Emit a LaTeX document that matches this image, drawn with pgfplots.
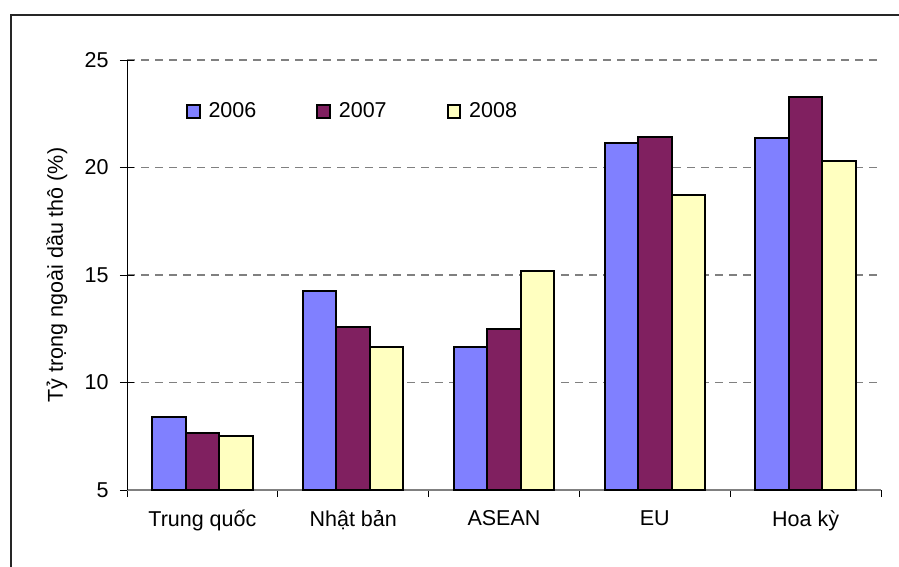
\documentclass[border=0pt]{standalone}
\usepackage{fontspec}
\setmainfont{Liberation Sans}
\usepackage{pgfplots}
\pgfplotsset{compat=1.18}
\definecolor{c6}{HTML}{8080FF}
\definecolor{c7}{HTML}{802060}
\definecolor{c8}{HTML}{FFFFC0}
\newcommand{\fs}{\fontsize{21.5}{25}\selectfont}
\begin{document}
\fs
\begin{tikzpicture}[x=1pt,y=1pt]
\useasboundingbox (0,0) rectangle (899,-567);
\draw[line width=2pt,black!85] (11,-15) rectangle (1000,-700);
\begin{axis}[
 at={(127pt,-490pt)}, anchor=south west,
 scale only axis, width=754pt, height=430pt,
 ybar=0pt, bar width=33.5pt,
 xmin=-0.5, xmax=4.5, ymin=5, ymax=25,
 xtick={0,1,2,3,4},
 xticklabels={Trung quốc, Nhật bản, ASEAN, EU, Hoa kỳ},
 minor xtick={-0.5,0.5,1.5,2.5,3.5,4.5},
 ytick={5,10,15,20,25},
 axis x line*=bottom, axis y line*=left,
 x axis line style={-, black!50, line width=1.5pt},
 y axis line style={-, black, line width=1pt},
 tick align=center,
 major tick length=14pt, minor tick length=7pt,
 major x tick style={draw=none},
 minor x tick style={black, line width=1pt, yshift=-3.5pt},
 ytick style={black, line width=1pt},
 ymajorgrids, major grid style={dash pattern=on 8pt off 6pt, black!50, line width=1.3pt},
 /pgf/number format/assume math mode=true,
 tick label style={font=\fs},
 label style={font=\fs},
 xticklabel style={yshift=-6pt},
 yticklabel style={xshift=-4pt},
 ylabel={Tỷ trọng ngoài dầu thô (\%)},
 ylabel style={at={(axis description cs:-0.093,0.5)}, anchor=center},
 legend style={at={(0.078,0.88)}, anchor=west, draw=none, fill=none,
   legend columns=3, inner sep=0pt,
   /tikz/every odd column/.append style={column sep=6pt},
   /tikz/every even column/.append style={column sep=58pt},
   font=\fs},
]
\addplot[fill=c6, draw=black, line width=2pt,
  legend image code/.code={\draw[fill=c6,draw=black,line width=2pt] (0pt,-6.5pt) rectangle (12.5pt,6.5pt);}]
  coordinates {(0,8.4) (1,14.27) (2,11.64) (3,21.16) (4,21.35)};
\addplot[fill=c7, draw=black, line width=2pt,
  legend image code/.code={\draw[fill=c7,draw=black,line width=2pt] (0pt,-6.5pt) rectangle (12.5pt,6.5pt);}]
  coordinates {(0,7.65) (1,12.57) (2,12.47) (3,21.44) (4,23.26)};
\addplot[fill=c8, draw=black, line width=2pt,
  legend image code/.code={\draw[fill=c8,draw=black,line width=2pt] (0pt,-6.5pt) rectangle (12.5pt,6.5pt);}]
  coordinates {(0,7.53) (1,11.64) (2,15.2) (3,18.7) (4,20.32)};
\legend{2006,2007,2008}
\end{axis}
\end{tikzpicture}
\end{document}
